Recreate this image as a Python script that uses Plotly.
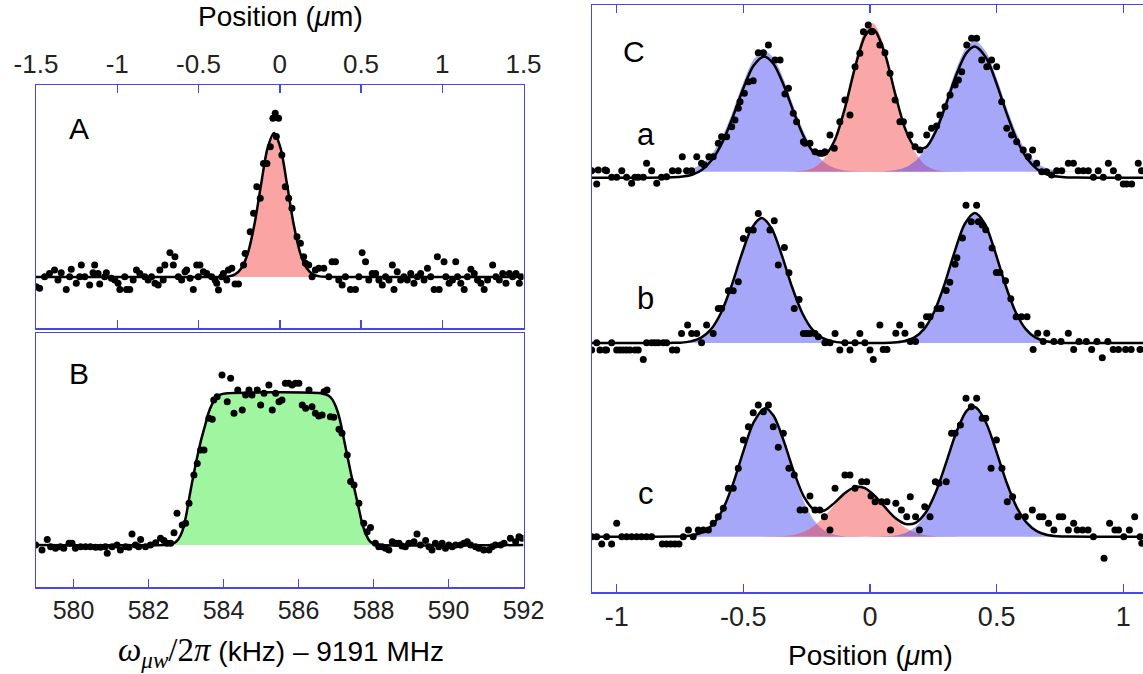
import plotly.graph_objects as go

# ---------------- Panel A : position scan (um), single site ----------------
A_pos = [-1.499,-1.478,-1.447,-1.417,-1.386,-1.365,-1.345,-1.314,-1.293,-1.283,-1.252,-1.231,-1.221,-1.200,
         -1.170,-1.149,-1.139,-1.118,-1.108,-1.077,-1.067,-1.036,-1.015,-0.995,-0.984,-0.954,-0.943,-0.923,
         -0.902,-0.882,-0.861,-0.830,-0.810,-0.789,-0.768,-0.748,-0.738,-0.717,-0.707,-0.676,-0.655,-0.645,
         -0.624,-0.604,-0.583,-0.573,-0.552,-0.532,-0.511,-0.501,-0.491,-0.470,-0.449,-0.419,-0.398,-0.388,
         -0.377,-0.357,-0.347,-0.326,-0.316,-0.295,-0.275,-0.254,
         -0.223,-0.213,-0.182,-0.161,-0.141,-0.120,-0.100,-0.079,-0.058,-0.042,-0.028,-0.021,-0.007,0.013,
         0.034,0.055,0.075,0.106,0.127,0.147,0.158,0.178,0.199,
         0.219,0.240,0.271,0.302,0.322,0.343,0.363,0.384,0.404,0.435,0.466,0.487,0.507,0.528,0.548,0.569,
         0.590,0.610,0.631,0.651,0.672,0.693,0.703,0.723,0.744,0.764,0.785,0.806,0.826,0.847,0.867,0.888,
         0.909,0.929,0.950,0.970,0.981,1.011,1.022,1.042,1.063,1.083,1.094,1.114,1.135,1.155,1.176,1.197,
         1.217,1.238,1.258,1.279,1.310,1.330,1.351,1.372,1.392,1.413,1.433,1.454,1.474,1.485]
A_sig = [-0.067,-0.079,0.002,0.025,0.049,-0.021,0.030,-0.086,0.002,0.053,-0.044,0.002,0.083,0.002,
         -0.056,0.030,0.083,0.025,-0.049,0.002,0.030,-0.009,-0.021,-0.044,-0.086,0.002,-0.086,-0.086,
         -0.021,0.049,0.025,0.002,-0.021,0.002,-0.044,-0.056,0.049,-0.021,0.083,0.169,0.083,0.141,
         0.002,-0.021,0.037,0.049,-0.009,-0.086,0.083,0.002,0.083,0.037,0.025,0.002,-0.021,-0.044,
         -0.090,0.002,0.025,-0.021,0.049,0.060,-0.049,-0.049,
         0.083,0.164,0.315,0.442,0.627,0.546,0.789,0.789,0.905,1.102,1.137,0.975,1.102,0.847,
         0.627,0.546,0.477,0.280,0.234,0.141,0.095,0.083,0.002,
         0.049,0.060,0.060,0.002,0.106,0.106,-0.021,-0.056,0.002,-0.086,-0.086,0.002,0.169,0.106,-0.021,0.025,
         0.025,-0.021,-0.056,0.002,-0.021,0.083,-0.086,0.037,-0.021,0.002,-0.021,0.025,-0.044,0.002,0.025,-0.021,
         0.060,0.002,-0.086,0.141,-0.086,0.106,0.002,-0.044,-0.021,0.106,0.002,-0.044,-0.086,0.002,0.053,0.025,
         -0.021,-0.044,-0.086,-0.021,0.083,0.002,-0.021,0.025,-0.044,0.025,0.002,0.025,-0.044,0.002]
A_fit_pos = [-1.5,-0.395,-0.355,-0.315,-0.275,-0.235,-0.195,-0.155,-0.115,-0.075,-0.035,0.005,0.045,0.085,
             0.125,0.165,0.205,0.245,0.285,0.325,1.5]
A_fit = [0,0.0001,0.0008,0.0044,0.0186,0.0628,0.170,0.369,0.642,0.895,1.0,0.895,0.642,0.369,
         0.170,0.0628,0.0186,0.0044,0.0008,0.0001,0]
A_ticks = [-1.5,-1,-0.5,0,0.5,1,1.5]
A_ticklabels = ["-1.5","-1","-0.5","0","0.5","1","1.5"]

# ---------------- Panel B : microwave frequency scan (kHz) ----------------
B_freq = [578.99,579.16,579.30,579.39,579.52,579.65,579.74,579.88,579.96,580.05,580.19,580.32,580.45,580.59,
          580.72,580.85,580.90,581.03,581.16,581.25,581.39,581.48,581.56,581.65,581.74,581.79,581.92,582.05,
          582.19,582.32,582.41,582.50,582.59,582.68,582.76,582.90,582.99,583.08,583.21,583.30,583.39,583.48,
          583.61,583.70,583.74,583.83,583.96,584.10,584.19,584.28,584.38,584.50,584.59,584.68,584.76,584.90,
          584.99,585.08,585.21,585.30,585.39,585.48,585.56,585.65,585.74,585.83,585.92,586.01,586.10,586.19,
          586.28,586.36,586.45,586.54,586.63,586.68,586.76,586.85,586.94,587.08,587.16,587.30,587.39,587.48,
          587.61,587.74,587.83,587.92,588.05,588.14,588.23,588.32,588.41,588.50,588.59,588.68,588.76,588.85,
          588.94,589.08,589.16,589.25,589.39,589.48,589.56,589.65,589.74,589.83,589.92,590.01,590.10,590.19,
          590.32,590.41,590.50,590.59,590.72,590.81,590.94,591.08,591.16,591.25,591.39,591.48,591.65,591.79,
          591.88,591.96]
B_sig = [0.0,-0.033,0.037,-0.011,-0.022,-0.011,-0.022,0.011,0.011,-0.022,-0.011,-0.011,-0.011,-0.015,
         -0.015,-0.011,-0.055,-0.011,0.0,-0.033,-0.011,-0.015,0.073,0.0,-0.011,0.037,-0.011,0.0,
         0.015,0.044,0.029,0.011,0.011,0.081,0.209,0.132,0.143,0.275,0.462,0.538,0.626,0.626,
         0.835,0.829,0.956,0.978,1.121,0.945,1.099,0.868,1.022,0.890,0.989,1.022,0.989,1.022,
         0.923,1.0,1.055,0.890,1.0,0.945,0.956,1.066,1.066,1.055,1.066,1.066,0.923,0.901,
         1.022,0.912,0.868,0.851,0.857,1.011,1.022,0.846,0.842,0.763,0.736,0.593,0.418,0.396,
         0.275,0.143,0.088,0.116,0.011,-0.011,-0.011,-0.022,-0.033,0.022,0.011,0.011,-0.007,-0.011,
         0.011,0.022,0.073,0.0,0.029,-0.011,-0.033,0.011,-0.011,0.011,-0.022,0.0,-0.011,0.0,
         0.0,0.011,0.022,0.0,-0.011,-0.022,-0.033,-0.033,-0.011,0.0,0.0,0.011,0.044,0.022,
         0.055,0.044]
B_fit_freq = [579.0,582.4,582.6,582.7,582.8,582.9,583.0,583.1,583.2,583.3,583.4,583.5,583.6,583.7,583.8,583.9,
              584.1,586.6,586.8,586.9,587.0,587.1,587.2,587.3,587.4,587.5,587.6,587.7,587.8,587.9,588.0,588.2,592.0]
B_fit = [0,0,0.005,0.015,0.04,0.09,0.19,0.33,0.46,0.58,0.69,0.78,0.87,0.93,0.97,0.99,
         1.0,1.0,0.985,0.96,0.91,0.83,0.71,0.59,0.47,0.36,0.25,0.14,0.07,0.025,0.008,0,0]
B_ticks = [580,582,584,586,588,590,592]

# ---------------- Panel C : three position profiles a, b, c ----------------
C_ticks = [-1,-0.5,0,0.5,1]
C_ticklabels = ["-1","-0.5","0","0.5","1"]

# row a
Ca_pos = [-1.099,-1.079,-1.073,-1.046,-1.040,-1.020,-1.000,-0.980,-0.961,-0.941,-0.928,-0.915,-0.895,-0.882,
          -0.862,-0.842,-0.823,-0.803,-0.780,-0.757,-0.741,-0.724,-0.704,-0.684,-0.665,-0.654,-0.636,-0.619,
          -0.599,-0.586,-0.566,-0.546,-0.533,-0.520,-0.513,-0.496,-0.480,-0.461,-0.441,-0.421,-0.401,-0.375,
          -0.355,-0.336,-0.322,-0.303,-0.290,-0.263,-0.257,-0.237,-0.217,-0.197,-0.178,-0.158,-0.141,-0.119,
          -0.099,-0.079,-0.059,-0.040,-0.026,-0.007,0.007,
          0.039,0.059,0.079,0.099,0.118,0.132,0.158,0.178,0.197,0.224,0.243,0.263,0.276,0.296,0.316,0.336,
          0.349,0.362,0.382,0.401,0.421,0.441,0.461,0.480,0.500,0.520,0.540,0.559,0.579,0.605,0.625,0.642,
          0.658,0.678,0.697,0.717,0.737,0.757,0.783,0.803,0.822,0.842,0.862,0.882,0.901,0.921,0.941,0.961,
          0.980,1.000,1.013,1.033,1.059,1.072]
Ca_sig = [0.056,-0.050,0.062,0.062,0.056,0.003,0.003,0.056,0.003,-0.045,0.003,0.003,0.003,0.115,
          0.056,-0.045,0.003,0.008,0.056,0.056,0.168,0.056,0.056,0.168,0.115,0.102,0.168,0.168,
          0.275,0.328,0.328,0.408,0.462,0.555,0.608,0.675,0.768,0.776,1.000,1.000,1.062,0.942,
          0.942,0.670,0.715,0.515,0.448,0.288,0.275,0.275,0.208,0.195,0.208,0.342,0.235,0.448,
          0.622,0.502,0.888,0.995,1.168,1.222,1.168,
          1.062,1.000,0.835,0.622,0.448,0.448,0.342,0.248,0.222,0.342,0.395,0.414,0.502,0.568,0.662,0.742,
          0.782,0.848,1.062,1.115,1.115,0.942,0.888,0.942,0.888,0.608,0.395,0.342,0.288,0.222,0.168,0.222,
          0.115,0.048,0.048,0.022,0.056,0.056,0.115,0.115,0.056,0.056,0.056,0.003,0.056,0.003,0.115,0.056,
          0.003,-0.050,-0.050,-0.050,0.115,0.056]
Ca_fit_pos = [-1.10,-0.90,-0.82,-0.78,-0.74,-0.70,-0.66,-0.62,-0.58,-0.54,-0.50,-0.46,-0.418,-0.38,-0.34,
              -0.30,-0.26,-0.22,-0.18,-0.14,-0.10,-0.06,-0.02,0.007,0.02,0.06,0.10,0.14,0.18,0.22,0.26,
              0.30,0.34,0.38,0.414,0.46,0.50,0.54,0.58,0.62,0.66,0.70,0.74,0.78,0.82,0.90,1.08]
Ca_fit = [0,0,0.001,0.003,0.009,0.026,0.068,0.153,0.295,0.494,0.715,0.895,0.970,0.908,0.736,
          0.518,0.322,0.198,0.180,0.296,0.549,0.875,1.132,1.190,1.177,0.984,0.666,0.385,0.238,0.242,0.372,
          0.585,0.820,0.996,1.050,0.954,0.751,0.511,0.301,0.153,0.068,0.026,0.009,0.002,0.001,0,0]
Ca_blue1_pos = [-0.82,-0.78,-0.74,-0.70,-0.66,-0.62,-0.58,-0.54,-0.50,-0.46,-0.418,-0.38,-0.34,-0.30,-0.26,
                -0.22,-0.18,-0.14,-0.10,-0.06,-0.02,0.02]
Ca_blue1 = [0.048,0.051,0.057,0.074,0.116,0.201,0.343,0.542,0.763,0.943,1.018,0.956,0.784,0.564,0.361,
            0.212,0.122,0.077,0.058,0.051,0.049,0.048]
Ca_red_pos = [-0.38,-0.34,-0.30,-0.26,-0.22,-0.18,-0.14,-0.10,-0.06,-0.02,0.007,0.02,0.06,0.10,0.14,0.18,
              0.22,0.26,0.30,0.34,0.38]
Ca_red = [0.048,0.048,0.050,0.057,0.082,0.154,0.315,0.587,0.920,1.179,1.238,1.224,1.028,0.702,0.398,0.198,
          0.100,0.062,0.051,0.049,0.048]
Ca_blue2_pos = [-0.02,0.02,0.06,0.10,0.14,0.18,0.22,0.26,0.30,0.34,0.38,0.414,0.46,0.50,0.54,0.58,0.62,
                0.66,0.70,0.74,0.78,0.82,0.86]
Ca_blue2 = [0.048,0.049,0.052,0.060,0.083,0.136,0.238,0.406,0.630,0.867,1.044,1.098,1.002,0.799,0.559,0.349,
            0.201,0.116,0.074,0.057,0.050,0.049,0.048]

# row b
Cb_pos = [-1.099,-1.079,-1.066,-1.046,-1.040,-1.020,-1.000,-0.987,-0.974,-0.961,-0.948,-0.928,-0.915,-0.895,
          -0.882,-0.862,-0.849,-0.836,-0.816,-0.803,-0.780,-0.763,-0.744,-0.720,-0.704,-0.684,-0.665,-0.645,
          -0.619,-0.599,-0.586,-0.559,-0.540,-0.520,-0.500,-0.480,-0.461,-0.441,-0.395,-0.378,-0.362,-0.338,
          -0.320,-0.299,-0.280,-0.263,-0.250,-0.237,-0.217,-0.204,-0.178,-0.158,-0.138,-0.119,-0.099,-0.079,
          -0.059,-0.040,-0.020,0.000,0.013,
          0.039,0.052,0.067,0.102,0.117,0.138,0.159,0.180,0.202,0.223,0.237,0.265,0.280,0.301,0.315,0.336,
          0.343,0.365,0.379,0.400,0.421,0.428,0.443,0.457,0.482,0.499,0.513,0.535,0.556,0.577,0.598,0.620,
          0.644,0.662,0.684,0.698,0.726,0.754,0.783,0.804,0.825,0.854,0.875,0.896,0.917,0.939,0.960,0.981,
          1.009,1.031,1.066]
Cb_sig = [-0.056,0.003,-0.056,-0.056,-0.056,0.003,-0.056,-0.056,-0.056,-0.056,-0.056,-0.056,-0.056,-0.131,
          0.003,0.003,0.003,0.003,0.003,0.003,-0.056,-0.056,0.077,0.144,0.077,0.077,0.003,0.144,
          0.077,0.277,0.277,0.419,0.419,0.491,0.837,0.904,0.904,1.037,0.904,0.979,0.624,0.765,
          0.563,0.277,0.349,0.077,0.077,0.077,0.077,0.051,0.003,0.003,0.077,-0.056,0.003,-0.056,
          0.003,0.077,0.003,-0.056,-0.131,
          0.144,-0.052,-0.052,0.079,0.144,0.079,0.013,0.013,0.144,0.210,0.210,0.276,0.276,0.420,0.486,0.630,
          0.682,0.840,1.102,0.971,1.102,0.971,0.945,0.906,0.761,0.564,0.564,0.499,0.354,0.210,0.210,0.210,
          -0.052,0.079,0.013,0.079,0.013,0.013,0.079,-0.052,0.013,0.013,-0.052,0.013,-0.118,0.013,-0.052,-0.052,
          -0.052,-0.052,-0.052]
Cb_fit_pos = [-1.10,-0.90,-0.788,-0.748,-0.708,-0.668,-0.628,-0.588,-0.548,-0.508,-0.468,-0.428,-0.388,-0.348,
              -0.308,-0.268,-0.228,-0.188,-0.148,-0.108,-0.068,0.054,0.094,0.134,0.174,0.214,0.254,0.294,
              0.334,0.374,0.414,0.454,0.494,0.534,0.574,0.614,0.654,0.694,0.734,0.774,0.90,1.08]
Cb_fit = [0,0,0.001,0.003,0.013,0.041,0.109,0.242,0.450,0.701,0.915,1.0,0.915,0.701,
          0.450,0.242,0.109,0.041,0.013,0.003,0.001,0.001,0.004,0.014,0.043,0.113,0.252,0.468,
          0.729,0.952,1.04,0.952,0.729,0.468,0.252,0.113,0.043,0.014,0.004,0.001,0,0]
Cb_blue1_pos = [-0.828,-0.788,-0.748,-0.708,-0.668,-0.628,-0.588,-0.548,-0.508,-0.468,-0.428,-0.388,-0.348,
                -0.308,-0.268,-0.228,-0.188,-0.148,-0.108,-0.068,-0.028]
Cb_blue1 = [0,0.001,0.003,0.013,0.041,0.109,0.242,0.450,0.701,0.915,1.0,0.915,0.701,
            0.450,0.242,0.109,0.041,0.013,0.003,0.001,0]
Cb_blue2_pos = [0.014,0.054,0.094,0.134,0.174,0.214,0.254,0.294,0.334,0.374,0.414,0.454,0.494,0.534,0.574,
                0.614,0.654,0.694,0.734,0.774,0.814]
Cb_blue2 = [0,0.001,0.004,0.014,0.043,0.113,0.252,0.468,0.729,0.952,1.04,0.952,0.729,0.468,0.252,
            0.113,0.043,0.014,0.004,0.001,0]

# row c
Cc_pos = [-1.099,-1.079,-1.059,-1.040,-1.020,-1.000,-0.980,-0.961,-0.941,-0.921,-0.902,-0.882,-0.862,-0.820,
          -0.803,-0.786,-0.770,-0.754,-0.737,-0.717,-0.698,-0.678,-0.658,-0.638,-0.619,-0.599,-0.579,-0.559,
          -0.540,-0.520,-0.500,-0.480,-0.461,-0.441,-0.421,-0.401,-0.382,-0.362,-0.342,-0.320,-0.299,-0.276,
          -0.257,-0.237,-0.217,-0.198,-0.180,-0.158,-0.138,-0.099,-0.079,-0.059,-0.033,-0.013,0.004,
          0.020,0.046,0.067,0.081,0.102,0.124,0.145,0.159,0.180,0.195,0.216,0.237,0.258,0.272,0.301,0.322,
          0.336,0.357,0.379,0.400,0.421,0.443,0.457,0.478,0.499,0.521,0.542,0.563,0.584,0.613,0.641,0.669,
          0.683,0.705,0.726,0.747,0.761,0.783,0.804,0.818,0.839,0.861,0.882,0.924,0.946,0.967,0.981,1.002,
          1.024,1.045,1.066,1.073]
Cc_sig = [0.0,0.0,-0.059,0.0,-0.059,0.107,0.0,0.0,0.0,0.0,0.0,0.0,0.0,-0.059,
          -0.059,-0.059,-0.059,-0.059,0.0,0.053,0.0,0.053,0.053,0.053,0.107,0.160,0.227,0.387,
          0.387,0.547,0.774,0.880,0.992,1.054,1.0,1.054,0.880,0.715,0.827,0.547,0.494,0.214,
          0.214,0.326,0.214,0.214,0.160,0.053,0.387,0.494,0.494,0.387,0.44,0.44,0.326,
          0.28,0.28,0.28,0.053,0.267,0.213,0.16,0.32,0.16,0.053,0.24,0.16,0.44,0.427,0.44,0.827,
          0.827,0.893,1.107,1.04,1.107,0.947,0.947,0.547,0.773,0.547,0.28,0.32,0.16,0.16,0.213,0.16,
          0.16,0.107,0.053,0.16,0.16,0.053,0.107,0.053,0.053,0.053,0.0,-0.173,0.107,0.053,0.053,0.0,
          0.053,0.16,0.0,-0.053]
Cc_fit_pos = [-1.10,-0.90,-0.78,-0.74,-0.70,-0.66,-0.62,-0.58,-0.54,-0.50,-0.46,-0.414,-0.38,-0.34,-0.30,
              -0.26,-0.22,-0.18,-0.14,-0.10,-0.06,-0.045,-0.02,0.02,0.06,0.10,0.14,0.18,0.22,0.26,0.30,
              0.34,0.38,0.407,0.42,0.46,0.50,0.54,0.58,0.62,0.66,0.70,0.74,0.78,0.90,1.08]
Cc_fit = [0,0,0.001,0.003,0.011,0.036,0.098,0.223,0.426,0.682,0.913,1.028,0.965,0.763,0.516,
          0.316,0.215,0.210,0.271,0.348,0.397,0.400,0.388,0.325,0.234,0.149,0.102,0.111,0.193,0.357,0.588,
          0.831,1.003,1.040,1.031,0.904,0.675,0.430,0.233,0.108,0.042,0.014,0.004,0.001,0,0]
Cc_blue1_pos = [-0.82,-0.78,-0.74,-0.70,-0.66,-0.62,-0.58,-0.54,-0.50,-0.46,-0.414,-0.38,-0.34,-0.30,-0.26,
                -0.22,-0.18,-0.14,-0.10,-0.06,-0.02]
Cc_blue1 = [0,0.001,0.003,0.011,0.036,0.098,0.223,0.426,0.682,0.913,1.027,0.963,0.758,0.500,0.276,
            0.128,0.049,0.016,0.004,0.001,0]
Cc_red_pos = [-0.46,-0.42,-0.38,-0.34,-0.30,-0.26,-0.22,-0.18,-0.14,-0.10,-0.06,-0.045,-0.02,0.02,0.06,0.10,
              0.14,0.18,0.22,0.26,0.30,0.34,0.38]
Cc_red = [0,0.0004,0.0015,0.005,0.016,0.040,0.087,0.161,0.255,0.344,0.396,0.400,0.388,0.324,0.231,0.140,
          0.072,0.032,0.012,0.004,0.001,0.0002,0]
Cc_blue2_pos = [-0.02,0.02,0.06,0.10,0.14,0.18,0.22,0.26,0.30,0.34,0.38,0.407,0.42,0.46,0.50,0.54,0.58,0.62,
                0.66,0.70,0.74,0.78,0.82]
Cc_blue2 = [0,0.001,0.003,0.009,0.030,0.079,0.181,0.353,0.587,0.831,1.003,1.040,1.031,0.904,0.675,0.430,
            0.233,0.108,0.042,0.014,0.004,0.001,0]

# ---------------- styling ----------------
W, H = 1143, 674
FRAME = "rgb(70,70,235)"
FONT = "Liberation Sans, Arial, sans-serif"
RED_SOLID = "rgb(250,164,164)"
GREEN = "rgb(160,246,160)"
BLUE_T = "rgba(60,60,245,0.45)"
RED_T = "rgba(245,60,60,0.45)"
DOT = dict(color="black", size=7)
FITLINE = dict(color="black", width=2.5, shape="spline", smoothing=0.8)


def fx(px):
    return px / W


def fy(py):
    return 1 - py / H


fig = go.Figure()

# Panel A
fig.add_trace(go.Scatter(x=A_fit_pos, y=A_fit, mode="lines", line=FITLINE, fill="tozeroy",
                         fillcolor=RED_SOLID, xaxis="x", yaxis="y", hoverinfo="skip"))
fig.add_trace(go.Scatter(x=A_pos, y=A_sig, mode="markers", marker=DOT, xaxis="x", yaxis="y"))

# Panel B
fig.add_trace(go.Scatter(x=B_fit_freq, y=B_fit, mode="lines", line=FITLINE, fill="tozeroy",
                         fillcolor=GREEN, xaxis="x2", yaxis="y2", hoverinfo="skip"))
fig.add_trace(go.Scatter(x=B_freq, y=B_sig, mode="markers", marker=DOT, xaxis="x2", yaxis="y2"))

# Panel C
rows = [
    ("y3", [(Ca_blue1_pos, Ca_blue1, BLUE_T), (Ca_red_pos, Ca_red, RED_T), (Ca_blue2_pos, Ca_blue2, BLUE_T)],
     Ca_fit_pos, Ca_fit, Ca_pos, Ca_sig),
    ("y4", [(Cb_blue1_pos, Cb_blue1, BLUE_T), (Cb_blue2_pos, Cb_blue2, BLUE_T)],
     Cb_fit_pos, Cb_fit, Cb_pos, Cb_sig),
    ("y5", [(Cc_blue1_pos, Cc_blue1, BLUE_T), (Cc_red_pos, Cc_red, RED_T), (Cc_blue2_pos, Cc_blue2, BLUE_T)],
     Cc_fit_pos, Cc_fit, Cc_pos, Cc_sig),
]
for yax, comps, fpos, fval, ppos, pval in rows:
    for cx, cy, col in comps:
        fig.add_trace(go.Scatter(x=cx, y=cy, mode="lines", fill="toself", fillcolor=col,
                                 line=dict(width=0, shape="spline", smoothing=0.8),
                                 xaxis="x4", yaxis=yax, hoverinfo="skip"))
    fig.add_trace(go.Scatter(x=fpos, y=fval, mode="lines", line=FITLINE, xaxis="x4", yaxis=yax,
                             hoverinfo="skip"))
    fig.add_trace(go.Scatter(x=ppos, y=pval, mode="markers", marker=DOT, xaxis="x4", yaxis=yax))

axis_common = dict(showgrid=False, zeroline=False, automargin=False, linecolor=FRAME, linewidth=1.5,
                   tickcolor=FRAME, tickwidth=1.5, ticklen=8, ticks="inside",
                   tickfont=dict(family=FONT, size=26, color="#222"))
yframe = dict(showgrid=False, zeroline=False, automargin=False, showline=True, mirror=True,
              linecolor=FRAME, linewidth=1.5, ticks="", showticklabels=False)

A_dom_x = [fx(36), fx(523.5)]
fig.update_layout(
    template="none",
    width=W, height=H, margin=dict(l=0, r=0, t=0, b=0, pad=0, autoexpand=False), autosize=False,
    paper_bgcolor="white", plot_bgcolor="rgba(0,0,0,0)", showlegend=False,
    xaxis=dict(axis_common, domain=A_dom_x, anchor="y", side="top", range=[-1.5, 1.5],
               showline=True, mirror="ticks", tickvals=A_ticks, ticktext=A_ticklabels),
    yaxis=dict(yframe, domain=[fy(328), fy(85)], anchor="x", range=[-0.3542, 1.3333]),
    xaxis2=dict(axis_common, domain=A_dom_x, anchor="y2", side="bottom", range=[579.0, 592.0],
                showline=True, mirror=True, tickvals=B_ticks, ticktext=[str(t) for t in B_ticks],
                tickfont=dict(family=FONT, size=25, color="#222")),
    yaxis2=dict(yframe, domain=[fy(587), fy(333)], anchor="x2", range=[-0.2769, 1.3975]),
    xaxis3=dict(axis_common, overlaying="x2", anchor="y2", side="top", range=[-1.5, 1.5],
                tickvals=A_ticks, showticklabels=False, showline=False),
    xaxis4=dict(axis_common, domain=[fx(592), 1.0], anchor="y3", side="bottom",
                range=[-1.0975, 1.0778], showline=True, mirror="ticks",
                tickvals=C_ticks, ticktext=C_ticklabels,
                tickfont=dict(family=FONT, size=27, color="#222")),
    yaxis3=dict(yframe, domain=[fy(592), fy(5)], anchor="x4", range=[-3.3144, 1.3816]),
    yaxis4=dict(overlaying="y3", anchor="x4", range=[-1.992, 2.704], visible=False, automargin=False),
    yaxis5=dict(overlaying="y3", anchor="x4", range=[-0.4424, 4.2536], visible=False, automargin=False),
)

ann = [
    ("Position (<i>μ</i>m)", 280, 16, 28),
    ("<span style=\"font-family:'Liberation Serif', 'Times New Roman', serif;font-size:33px\"><i>ω</i>"
     "<sub><i>μw</i></sub>/2<i>π</i></span> (kHz) – 9191 MHz", 281, 652, 28),
    ("Position (<i>μ</i>m)", 870, 655, 28),
    ("A", 79, 128, 30), ("B", 79, 374, 30), ("C", 634, 51, 30),
    ("a", 646, 134, 31), ("b", 646, 298, 31), ("c", 646, 493, 31),
]
for text, x, y, size in ann:
    fig.add_annotation(text=text, x=fx(x), y=fy(y), xref="paper", yref="paper",
                       xanchor="center", yanchor="middle", showarrow=False,
                       font=dict(family=FONT, size=size, color="black"))

fig.write_html(
    "out.html",
    config={"displayModeBar": False, "staticPlot": True},
    post_script="document.body.style.margin='0px';document.body.style.padding='0px';"
                "document.body.style.overflow='hidden';",
)
